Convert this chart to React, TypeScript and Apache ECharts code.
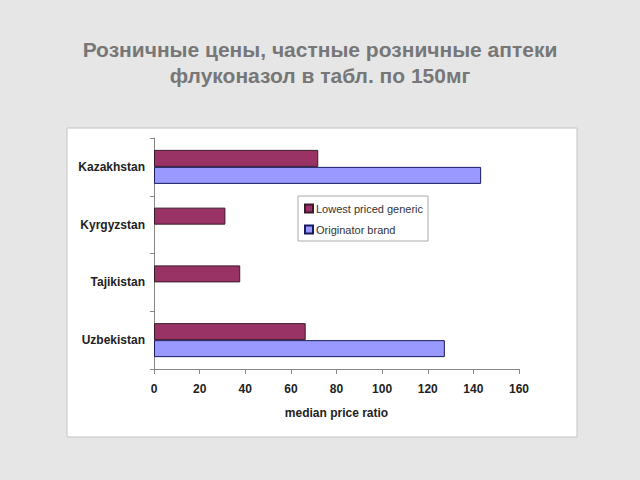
import React, { useEffect, useRef } from "react";
import * as echarts from "echarts";

const titleLines = ["Розничные цены, частные розничные аптеки", "флуконазол в табл. по 150мг"];
const categories = ["Kazakhstan", "Kyrgyzstan", "Tajikistan", "Uzbekistan"];
const seriesNames = ["Lowest priced generic", "Originator brand"];
const genericValues = [72, 31.3, 37.8, 66.5];
const originatorValues: (number | null)[] = [143.4, null, null, 127.5];
const xTicks = { min: 0, max: 160, interval: 20 };
const xAxisName = "median price ratio";

export default function App() {
  const ref = useRef<HTMLDivElement>(null);
  useEffect(() => {
    if (!ref.current) return;
    const chart = echarts.init(ref.current, undefined, { renderer: "svg" });
    const font = "'Liberation Sans', Arial, sans-serif";
    chart.setOption({
      animation: false,
      backgroundColor: "#e6e6e6",
      textStyle: { fontFamily: font },
      graphic: [
        {
          type: "rect",
          z: -10,
          shape: { x: 67, y: 128, width: 510, height: 309 },
          style: { fill: "#ffffff", stroke: "#c4c4c4", lineWidth: 1 },
        },
        {
          type: "text",
          x: 320,
          y: 36,
          style: {
            text: titleLines.join("\n"),
            fontFamily: font,
            fontSize: 21,
            fontWeight: "bold",
            fill: "#777777",
            align: "center",
            verticalAlign: "top",
            lineHeight: 26,
          },
        },
      ],
      legend: {
        orient: "vertical",
        left: 298,
        top: 196,
        padding: [7, 5, 6, 6],
        itemGap: 10,
        itemWidth: 8,
        itemHeight: 8,
        icon: "rect",
        backgroundColor: "#ffffff",
        borderColor: "#aaaaaa",
        borderWidth: 1,
        borderRadius: 0,
        textStyle: { fontSize: 11, color: "#333333", fontFamily: font, padding: [0, 0, 0, -2] },
        data: seriesNames,
      },
      grid: { left: 154, right: 121, top: 138, bottom: 111, containLabel: false },
      xAxis: {
        type: "value",
        min: xTicks.min,
        max: xTicks.max,
        interval: xTicks.interval,
        name: xAxisName,
        nameLocation: "middle",
        nameGap: 38,
        nameTextStyle: { fontSize: 12, fontWeight: "bold", color: "#222222", fontFamily: font },
        axisLine: { show: true, lineStyle: { color: "#888888" } },
        axisTick: { show: true, length: 5, lineStyle: { color: "#888888" } },
        splitLine: { show: false },
        axisLabel: { fontSize: 12, fontWeight: "bold", color: "#222222", margin: 14, fontFamily: font },
      },
      yAxis: {
        type: "category",
        inverse: true,
        data: categories,
        axisLine: { show: true, lineStyle: { color: "#888888" } },
        axisTick: { show: true, length: 4, lineStyle: { color: "#888888" } },
        axisLabel: { fontSize: 12, fontWeight: "bold", color: "#222222", margin: 9, fontFamily: font },
      },
      series: [
        {
          name: seriesNames[0],
          type: "bar",
          data: genericValues,
          barWidth: 17,
          barGap: "0%",
          itemStyle: { color: "#993366", borderColor: "#3a1a2a", borderWidth: 1 },
        },
        {
          name: seriesNames[1],
          type: "bar",
          data: originatorValues,
          barWidth: 17,
          barGap: "0%",
          itemStyle: { color: "#9999ff", borderColor: "#1a1a60", borderWidth: 1 },
        },
      ],
    });
    return () => chart.dispose();
  }, []);
  return (
    <div
      ref={ref}
      style={{ position: "fixed", left: 0, top: 0, width: 640, height: 480 }}
    />
  );
}
